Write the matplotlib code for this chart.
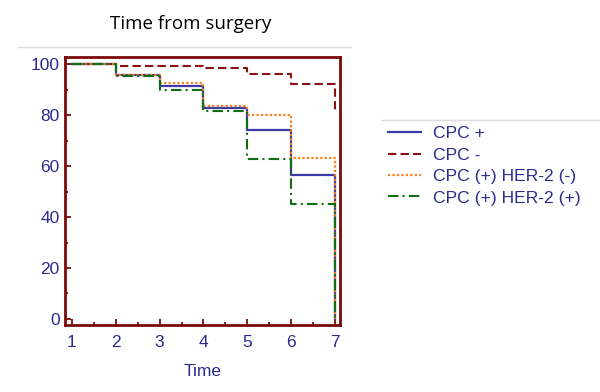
import matplotlib.pyplot as plt
from matplotlib.lines import Line2D
from matplotlib.ticker import MultipleLocator

# survival curves
time = [1, 2, 3, 4, 5, 6, 7]
cpc_pos = [100, 95.8, 91.3, 83.0, 74.2, 56.4, 0]
cpc_neg = [100, 99.4, 99.4, 98.4, 96.3, 92.2, 81.8]
her2_neg = [100, 96.0, 92.6, 83.6, 80.0, 63.3, 0]
her2_pos = [100, 95.4, 89.8, 81.8, 62.9, 45.0, 0]
labels = ["CPC +", "CPC -", "CPC (+) HER-2 (-)", "CPC (+) HER-2 (+)"]

navy = "#2b2b8f"
maroon = "#7a0a0a"

fig = plt.figure(figsize=(6, 3.92), dpi=100)
ax = fig.add_axes([0.109, 0.171, 0.458, 0.683])

ax.step(time, cpc_pos, where="post", color="#3a3aa8", lw=1.6, label=labels[0])
ax.step(time, cpc_neg, where="post", color="#8b1010", lw=1.5, ls=(0, (4, 2)), label=labels[1])
ax.step(time, her2_neg, where="post", color="#ff7f1a", lw=1.6, ls=(0, (1, 1)), label=labels[2])
ax.step(time, her2_pos, where="post", color="#0f6e0f", lw=1.5, ls=(0, (5, 2, 1, 2)), label=labels[3])

ax.set_xlim(0.856, 7.114)
ax.set_ylim(-2.4, 102.8)
ax.xaxis.set_major_locator(MultipleLocator(1))
ax.xaxis.set_minor_locator(MultipleLocator(0.5))
ax.yaxis.set_major_locator(MultipleLocator(20))
ax.yaxis.set_minor_locator(MultipleLocator(10))

for s in ax.spines.values():
    s.set_color(maroon)
    s.set_linewidth(2)
ax.tick_params(which="both", direction="in", color=maroon, top=False, right=False,
               labelcolor=navy, labelsize=12.5, width=1.3)
ax.tick_params(which="major", length=4)
ax.tick_params(which="minor", length=2)
ax.tick_params(axis="x", which="major", pad=7.5)
ax.tick_params(axis="y", which="major", pad=4)
for t in ax.get_xticklabels() + ax.get_yticklabels():
    t.set_family("Liberation Sans")

ax.set_xlabel("Time", color=navy, fontsize=12.5, family="Liberation Sans", labelpad=10)

fig.text(0.317, 0.94, "Time from surgery", ha="center", va="center",
         fontsize=13.5, family="Open Sans", color="black")

# thin grey rules like on the slide
fig.add_artist(Line2D([0.03, 0.585], [0.88, 0.88], color="#dddddd", lw=1))
fig.add_artist(Line2D([0.635, 1.0], [0.695, 0.695], color="#dddddd", lw=1))

leg = fig.legend(loc="upper left", bbox_to_anchor=(0.647, 0.678), frameon=False,
                 borderaxespad=0, borderpad=0,
                 handlelength=1.85, handletextpad=0.7, labelspacing=0.35,
                 prop={"family": "Liberation Sans", "size": 12.6})
for t in leg.get_texts():
    t.set_color(navy)

plt.savefig("out.png", dpi=100)
